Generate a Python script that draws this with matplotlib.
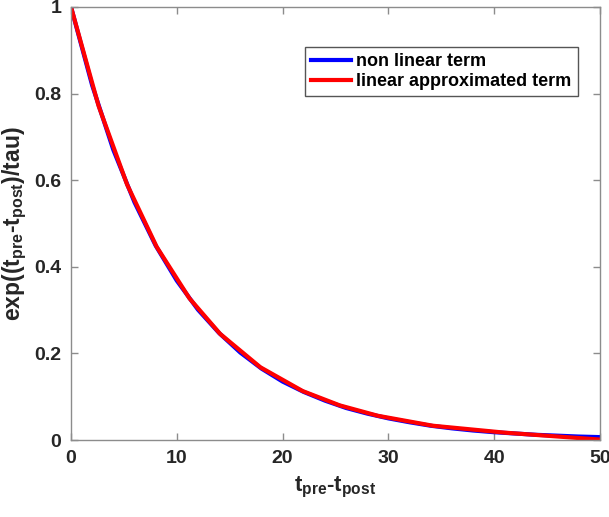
import matplotlib.pyplot as plt
from matplotlib.ticker import FormatStrFormatter

# valores
x_nl = [0, 2, 4, 6, 8, 10, 12, 14, 16, 18, 20, 22, 24, 26, 28, 30,
        32, 34, 36, 38, 40, 42, 44, 46, 48, 50]
y_nl = [1.0, 0.819, 0.670, 0.549, 0.449, 0.368, 0.301, 0.247, 0.202, 0.165,
        0.135, 0.111, 0.091, 0.074, 0.061, 0.050, 0.041, 0.033, 0.027, 0.022,
        0.018, 0.015, 0.012, 0.010, 0.008, 0.0067]

x_lin = [0, 2.6, 5.3, 8.1, 11.2, 14.1, 17.9, 21.9, 25.4, 29.0, 34.2, 41.0, 50]
y_lin = [1.0, 0.772, 0.59, 0.446, 0.327, 0.245, 0.168, 0.113, 0.080, 0.056,
         0.033, 0.017, 0.001]

x_ticks = [0, 10, 20, 30, 40, 50]
y_ticks = [0, 0.2, 0.4, 0.6, 0.8, 1]

plt.rcParams['font.family'] = ['Liberation Sans', 'DejaVu Sans']
plt.rcParams['mathtext.fontset'] = 'custom'
plt.rcParams['mathtext.bf'] = 'Liberation Sans:bold'
plt.rcParams['mathtext.rm'] = 'Liberation Sans:bold'
plt.rcParams['mathtext.it'] = 'Liberation Sans:bold'
plt.rcParams['mathtext.default'] = 'bf'

fig = plt.figure(figsize=(6.09, 5.17), dpi=100)
ax = fig.add_axes([0.1166, 0.1489, 0.8686, 0.8376])

ax.plot(x_nl, y_nl, color='blue', lw=3, label='non linear term')
ax.plot(x_lin, y_lin, color='red', lw=3, label='linear approximated term')

ax.set_xlim(0, 50)
ax.set_ylim(0, 1)
ax.set_xticks(x_ticks)
ax.set_yticks(y_ticks)
ax.yaxis.set_major_formatter(FormatStrFormatter('%g'))

for s in ax.spines.values():
    s.set_color('#8c8c8c')
    s.set_linewidth(1.0)
ax.tick_params(direction='in', length=5, width=1, color='#8c8c8c',
               top=True, right=True, labelsize=14, labelcolor='#262626', pad=7)
for lab in ax.get_xticklabels() + ax.get_yticklabels():
    lab.set_fontweight('bold')

ax.set_xlabel(r'$t_{pre}$-$t_{post}$', fontsize=16, fontweight='bold',
              color='#262626', labelpad=6)
ax.set_ylabel(r'exp(($t_{pre}$-$t_{post}$)/tau)', fontsize=16.5, fontweight='bold',
              color='#262626', labelpad=4)

leg = ax.legend(loc='upper right', bbox_to_anchor=(0.958, 0.908),
                prop={'weight': 'bold', 'size': 13}, fancybox=False,
                edgecolor='#555555', framealpha=1, handlelength=2.2,
                borderpad=0.35, labelspacing=0.15, handletextpad=0.3,
                borderaxespad=0)
leg.get_frame().set_linewidth(1.0)

plt.savefig('out.png', dpi=100)
